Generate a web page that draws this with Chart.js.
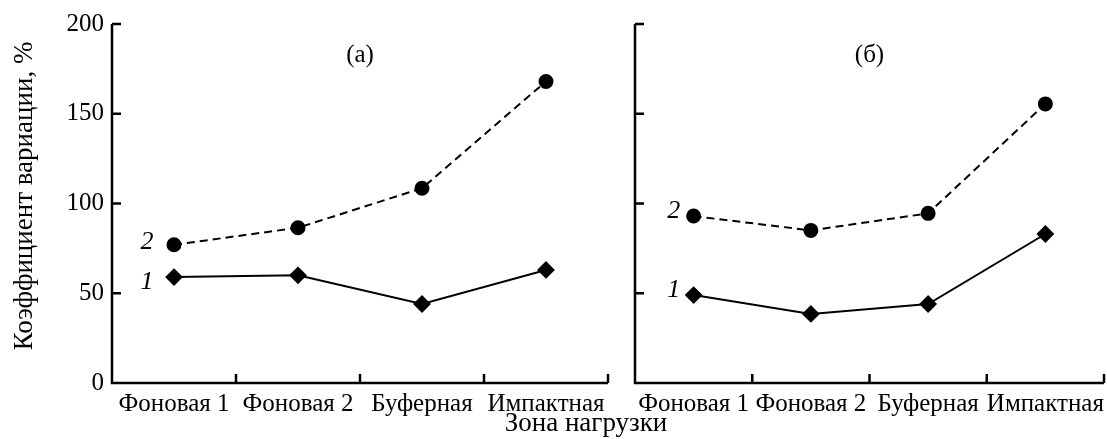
<!DOCTYPE html>
<html>
<head>
<meta charset="utf-8">
<script src="https://cdn.jsdelivr.net/npm/chart.js@4/dist/chart.umd.min.js"></script>
<style>
  body { margin: 0; background: #fff; }
  #wrap { position: relative; width: 1107px; height: 439px; overflow: hidden; }
  canvas { position: absolute; left: 0; top: 0; }
</style>
</head>
<body>
<div id="wrap">
  <canvas id="chartA" width="1107" height="439"></canvas>
  <canvas id="chartB" width="1120" height="439"></canvas>
</div>
<script>
const zones = ['Фоновая 1', 'Фоновая 2', 'Буферная', 'Импактная'];
const yTicks = [0, 50, 100, 150, 200];

// panel (а)
const a1 = [59, 60, 44, 63];
const a2 = [77, 86.5, 108.5, 168];
// panel (б)
const b1 = [49, 38.5, 44, 83];
const b2 = [93, 85, 94.5, 155.5];

const seriesNames = ['1', '2'];
const panelNames = ['(а)', '(б)'];
const yTitle = 'Коэффициент вариации, %';
const xTitle = 'Зона нагрузки';

const serif = "'Liberation Serif', 'DejaVu Serif', serif";
Chart.defaults.color = '#000';
Chart.defaults.font.family = serif;
Chart.defaults.font.size = 25;

// axes with inward ticks + annotations
const framePlugin = {
    id: 'frame',
    afterDatasetsDraw(chart, args, opts) {
        const ctx = chart.ctx;
        const area = chart.chartArea;
        const x = chart.scales.x;
        const y = chart.scales.y;
        const tick = 9;
        ctx.save();
        ctx.strokeStyle = '#000';
        ctx.lineWidth = 2.5;
        ctx.lineCap = 'butt';
        ctx.beginPath();
        ctx.moveTo(area.left, area.top);
        ctx.lineTo(area.left, area.bottom);
        ctx.lineTo(area.right, area.bottom);
        yTicks.forEach(v => {
            const py = y.getPixelForValue(v);
            ctx.moveTo(area.left, py);
            ctx.lineTo(area.left + tick, py);
        });
        const step = x.getPixelForValue(1) - x.getPixelForValue(0);
        for (let i = 0; i < zones.length; i++) {
            const px = x.getPixelForValue(i) + step / 2;
            ctx.moveTo(px, area.bottom);
            ctx.lineTo(px, area.bottom - tick);
        }
        ctx.stroke();

        // panel caption
        ctx.fillStyle = '#000';
        ctx.font = '25px ' + serif;
        ctx.textAlign = 'center';
        ctx.textBaseline = 'middle';
        ctx.fillText(opts.caption, (area.left + area.right) / 2, 55);

        // series numbers next to first points
        ctx.font = 'italic 26px ' + serif;
        chart.data.datasets.forEach((ds, i) => {
            const px = x.getPixelForValue(0);
            const py = y.getPixelForValue(ds.data[0]);
            const off = opts.offsets[i];
            ctx.fillText(seriesNames[i], px + off[0], py + off[1]);
        });

        if (opts.titles) {
            ctx.font = '27px ' + serif;
            ctx.textBaseline = 'alphabetic';
            ctx.fillText(xTitle, 586, 431);
            ctx.translate(32, 196);
            ctx.rotate(-Math.PI / 2);
            ctx.fillText(yTitle, 0, 0);
        }
        ctx.restore();
    }
};

function makeChart(id, s1, s2, opt) {
    return new Chart(document.getElementById(id), {
        type: 'line',
        data: {
            labels: zones,
            datasets: [{
                data: s1,
                borderColor: '#000',
                backgroundColor: '#000',
                borderWidth: 2,
                pointStyle: 'rectRot',
                pointRadius: 7.5,
                pointHoverRadius: 7.5
            }, {
                data: s2,
                borderColor: '#000',
                backgroundColor: '#000',
                borderWidth: 2,
                borderDash: [8, 5],
                pointStyle: 'circle',
                pointRadius: 6.5,
                pointHoverRadius: 6.5
            }]
        },
        options: {
            responsive: false,
            animation: false,
            layout: { autoPadding: false, padding: { top: 24, right: opt.padRight, left: 0, bottom: 0 } },
            plugins: {
                legend: { display: false },
                tooltip: { enabled: false },
                frame: { caption: opt.caption, offsets: opt.offsets, titles: opt.titles }
            },
            scales: {
                x: {
                    type: 'category',
                    offset: true,
                    grid: { display: false, drawTicks: false },
                    border: { display: false },
                    ticks: { autoSkip: false, maxRotation: 0, padding: 6 },
                    afterFit(scale) { scale.height = 56; }
                },
                y: {
                    min: 0,
                    max: 200,
                    grid: { display: false, drawTicks: false },
                    border: { display: false },
                    ticks: { display: opt.showY, stepSize: 50, padding: 8 },
                    afterFit(scale) { scale.width = opt.yWidth; }
                }
            }
        },
        plugins: [framePlugin]
    });
}

makeChart('chartA', a1, a2, {
    caption: panelNames[0], showY: true, yWidth: 112, padRight: 499, titles: true,
    offsets: [[-27, 5], [-27, -3]]
});
makeChart('chartB', b1, b2, {
    caption: panelNames[1], showY: false, yWidth: 635, padRight: 16, titles: false,
    offsets: [[-20, -5], [-20, -5]]
});
</script>
</body>
</html>
